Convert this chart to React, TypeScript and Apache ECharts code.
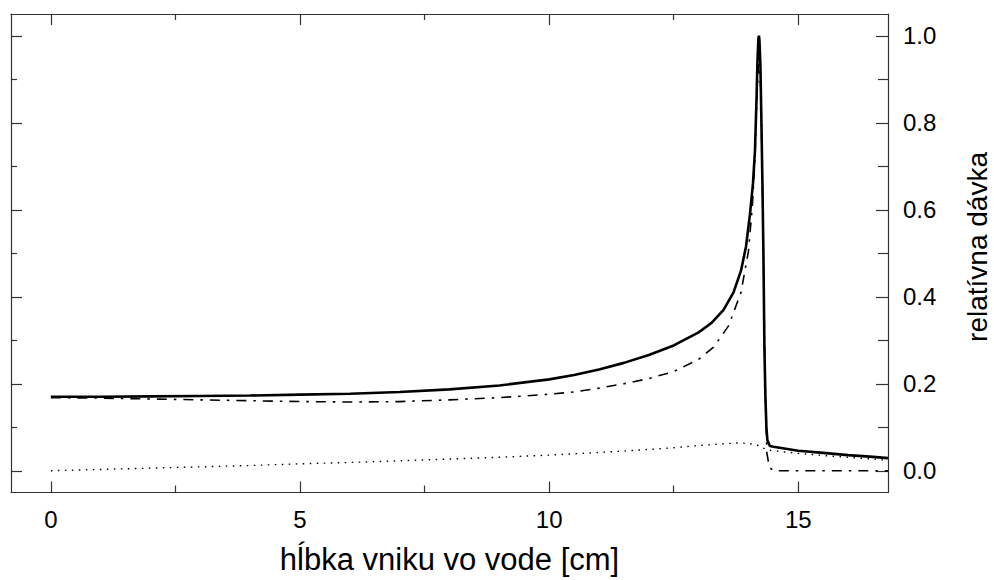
import React, { useEffect, useRef } from "react";
import * as echarts from "echarts";

// ---- data ----
const totalDepth = [0, 1, 2, 3, 4, 5, 6, 7, 8, 9, 10, 10.5, 11, 11.5, 12, 12.5, 13, 13.25, 13.5, 13.7, 13.85, 13.95, 14.03, 14.09, 14.13, 14.16, 14.18, 14.2, 14.21, 14.22, 14.24, 14.26, 14.28, 14.3, 14.32, 14.34, 14.36, 14.38, 14.43, 14.5, 15, 15.5, 16, 16.5, 16.8];
const totalDose = [0.170, 0.170, 0.171, 0.172, 0.173, 0.175, 0.177, 0.181, 0.187, 0.196, 0.210, 0.220, 0.233, 0.248, 0.266, 0.288, 0.318, 0.339, 0.370, 0.410, 0.460, 0.515, 0.590, 0.660, 0.735, 0.850, 0.940, 0.995, 1.000, 0.990, 0.930, 0.800, 0.660, 0.500, 0.280, 0.170, 0.100, 0.070, 0.057, 0.055, 0.046, 0.041, 0.036, 0.032, 0.029];

const primaryDepth = [0, 1, 2, 3, 4, 5, 6, 7, 8, 9, 10, 10.5, 11, 11.5, 12, 12.5, 13, 13.3, 13.6, 13.85, 14.0, 14.08, 14.13, 14.17, 14.2, 14.22, 14.25, 14.28, 14.31, 14.34, 14.37, 14.42, 14.5, 15, 16, 16.8];
const primaryDose = [0.168, 0.167, 0.165, 0.163, 0.161, 0.159, 0.158, 0.159, 0.163, 0.168, 0.176, 0.181, 0.190, 0.200, 0.212, 0.228, 0.256, 0.284, 0.333, 0.410, 0.505, 0.612, 0.718, 0.860, 0.930, 0.935, 0.870, 0.660, 0.400, 0.170, 0.040, 0.008, 0.0, 0.0, 0.0, 0.0];

const secondaryDepth = [0, 1, 2, 3, 4, 5, 6, 7, 8, 9, 10, 11, 12, 12.5, 13, 13.5, 13.8, 14.0, 14.2, 14.37, 14.5, 15, 15.5, 16, 16.5, 16.8];
const secondaryDose = [0.0, 0.003, 0.006, 0.009, 0.012, 0.016, 0.019, 0.023, 0.027, 0.031, 0.036, 0.042, 0.049, 0.053, 0.058, 0.062, 0.064, 0.063, 0.058, 0.048, 0.046, 0.040, 0.035, 0.031, 0.027, 0.024];

const xMajorTicks = [0, 5, 10, 15];
const xMinorTicks = [2.5, 7.5, 12.5];
const yMajorTicks = [0, 0.2, 0.4, 0.6, 0.8, 1.0];
const yMinorTicks = [0.1, 0.3, 0.5, 0.7, 0.9];

const xTitle = "hĺbka vniku vo vode [cm]";
const yTitle = "relatívna dávka";

const FONT = "'Liberation Sans', Arial, Helvetica, sans-serif";
const AXIS_COLOR = "#333";

function pairs(xs: number[], ys: number[]) {
  return xs.map((x, i) => [x, ys[i]]);
}

function xAxisDef(position: "top" | "bottom", ticks: number[], len: number, line: boolean, labels: boolean): any {
  return {
    type: "value",
    position,
    min: -0.8,
    max: 16.8,
    splitLine: { show: false },
    axisLine: { show: line, onZero: false, lineStyle: { color: AXIS_COLOR, width: 1.2 } },
    axisTick: { show: true, inside: true, length: len, customValues: ticks, lineStyle: { color: AXIS_COLOR, width: 1.2 } },
    axisLabel: labels
      ? { show: true, customValues: ticks, margin: 15, fontSize: 24, color: "#000", fontFamily: FONT }
      : { show: false },
  };
}

function yAxisDef(position: "left" | "right", ticks: number[], len: number, line: boolean, labels: boolean): any {
  return {
    type: "value",
    position,
    min: -0.05,
    max: 1.05,
    splitLine: { show: false },
    axisLine: { show: line, onZero: false, lineStyle: { color: AXIS_COLOR, width: 1.2 } },
    axisTick: { show: true, inside: true, length: len, customValues: ticks, lineStyle: { color: AXIS_COLOR, width: 1.2 } },
    axisLabel: labels
      ? {
          show: true,
          customValues: ticks,
          margin: 15,
          fontSize: 24,
          color: "#000",
          fontFamily: FONT,
          formatter: (v: number) => v.toFixed(1),
        }
      : { show: false },
  };
}

export default function App() {
  const ref = useRef<HTMLDivElement>(null);

  useEffect(() => {
    if (!ref.current) return;
    const chart = echarts.init(ref.current, undefined, { renderer: "svg" });
    const bottomMain = xAxisDef("bottom", xMajorTicks, 11, true, true);
    bottomMain.name = xTitle;
    bottomMain.nameLocation = "middle";
    bottomMain.nameGap = 67;
    bottomMain.nameTextStyle = { fontSize: 31, color: "#000", fontFamily: FONT, verticalAlign: "middle" };

    chart.setOption({
      animation: false,
      backgroundColor: "#fff",
      grid: { left: 11, right: 106, top: 14, bottom: 83 },
      xAxis: [
        bottomMain,
        xAxisDef("bottom", xMinorTicks, 7, false, false),
        xAxisDef("top", xMajorTicks, 11, true, false),
        xAxisDef("top", xMinorTicks, 6, false, false),
      ],
      yAxis: [
        yAxisDef("right", yMajorTicks, 12, true, true),
        yAxisDef("right", yMinorTicks, 10, false, false),
        yAxisDef("left", yMajorTicks, 11, true, false),
        yAxisDef("left", yMinorTicks, 6, false, false),
      ],
      graphic: [
        {
          type: "text",
          x: 977,
          y: 247,
          rotation: Math.PI / 2,
          style: {
            text: yTitle,
            fontSize: 28,
            fontFamily: FONT,
            fill: "#000",
            align: "center",
            verticalAlign: "middle",
          },
        },
      ],
      series: [
        {
          name: "secondary",
          type: "line",
          xAxisIndex: 0,
          yAxisIndex: 0,
          data: pairs(secondaryDepth, secondaryDose),
          symbol: "none",
          lineStyle: { color: "#000", width: 1.4, type: [1.5, 5.5] },
          z: 2,
        },
        {
          name: "primary",
          type: "line",
          xAxisIndex: 0,
          yAxisIndex: 0,
          data: pairs(primaryDepth, primaryDose),
          symbol: "none",
          lineStyle: { color: "#000", width: 1.6, type: [10, 7, 2.5, 7] },
          z: 3,
        },
        {
          name: "total",
          type: "line",
          xAxisIndex: 0,
          yAxisIndex: 0,
          data: pairs(totalDepth, totalDose),
          symbol: "none",
          lineStyle: { color: "#000", width: 2.6, type: "solid" },
          z: 4,
        },
      ],
    });
    return () => chart.dispose();
  }, []);

  return (
    <div
      ref={ref}
      style={{ position: "fixed", left: 0, top: 0, width: 994, height: 580, background: "#fff" }}
    />
  );
}
